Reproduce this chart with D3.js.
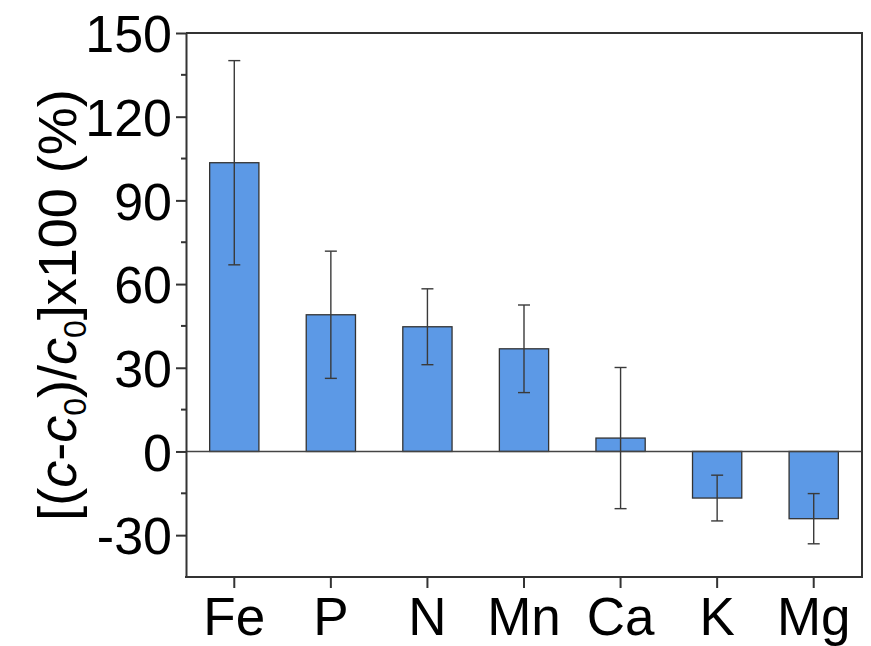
<!DOCTYPE html>
<html>
<head>
<meta charset="utf-8">
<script src="https://cdn.jsdelivr.net/npm/d3@7"></script>
<style>
  body { margin: 0; background: #fff; }
  svg { font-family: "Liberation Sans", Arial, sans-serif; }
</style>
</head>
<body>
<div id="chart"></div>
<script>
'use strict';

// Relative change of element concentration, with error bar half-widths
const elements = ['Fe', 'P', 'N', 'Mn', 'Ca', 'K', 'Mg'];
const changes = [103.5, 49, 44.7, 36.8, 4.8, -16.7, -24.1];
const errors = [36.6, 22.8, 13.6, 15.7, 25.3, 8.2, 9.0];
const yTicks = [-30, 0, 30, 60, 90, 120, 150];
const yMinorTicks = [-15, 15, 45, 75, 105, 135];

const width = 871;
const height = 646;
const margin = {top: 33, right: 9, bottom: 69, left: 186};

const svg = d3.select('#chart')
  .append('svg')
  .attr('width', width)
  .attr('height', height);

const x = d3.scaleBand()
  .domain(elements)
  .range([margin.left, width - margin.right])
  .paddingInner(0.49)
  .paddingOuter(0.245);

const y = d3.scaleLinear()
  .domain([-45, 150])
  .range([height - margin.bottom, margin.top]);

const data = elements.map((e, i) => ({name: e, value: changes[i], err: errors[i]}));

// bars
svg.append('g')
  .selectAll('rect')
  .data(data)
  .join('rect')
  .attr('x', d => x(d.name))
  .attr('width', x.bandwidth())
  .attr('y', d => y(Math.max(0, d.value)))
  .attr('height', d => Math.abs(y(d.value) - y(0)))
  .attr('fill', '#5c99e6')
  .attr('stroke', '#333')
  .attr('stroke-width', 1.3);

// zero line
svg.append('line')
  .attr('x1', margin.left)
  .attr('x2', width - margin.right)
  .attr('y1', y(0))
  .attr('y2', y(0))
  .attr('stroke', '#444')
  .attr('stroke-width', 1.5);

// error bars
const capHalf = 6;
const errG = svg.append('g')
  .attr('stroke', '#3a3a3a')
  .attr('stroke-width', 1.4)
  .selectAll('g')
  .data(data)
  .join('g')
  .attr('transform', d => `translate(${x(d.name) + x.bandwidth() / 2},0)`);

errG.append('line')
  .attr('y1', d => y(d.value + d.err))
  .attr('y2', d => y(d.value - d.err));
errG.append('line')
  .attr('x1', -capHalf).attr('x2', capHalf)
  .attr('y1', d => y(d.value + d.err))
  .attr('y2', d => y(d.value + d.err));
errG.append('line')
  .attr('x1', -capHalf).attr('x2', capHalf)
  .attr('y1', d => y(d.value - d.err))
  .attr('y2', d => y(d.value - d.err));

// frame top and right
svg.append('path')
  .attr('d', `M${margin.left},${margin.top}H${width - margin.right}V${height - margin.bottom}`)
  .attr('fill', 'none')
  .attr('stroke', '#333')
  .attr('stroke-width', 2);

// y axis
const yAxis = svg.append('g')
  .attr('transform', `translate(${margin.left},0)`)
  .call(d3.axisLeft(y)
    .tickValues(yTicks)
    .tickFormat(d => String(d))
    .tickSize(10)
    .tickPadding(4)
    .tickSizeOuter(0));
yAxis.selectAll('text')
  .attr('font-size', 52)
  .attr('dy', '0.36em')
  .attr('fill', '#000');

svg.append('g')
  .attr('transform', `translate(${margin.left},0)`)
  .selectAll('line')
  .data(yMinorTicks)
  .join('line')
  .attr('x1', -5)
  .attr('x2', 0)
  .attr('y1', d => y(d))
  .attr('y2', d => y(d))
  .attr('stroke', '#333')
  .attr('stroke-width', 2);

// x axis
const xAxis = svg.append('g')
  .attr('transform', `translate(0,${height - margin.bottom})`)
  .call(d3.axisBottom(x).tickSize(11).tickPadding(9).tickSizeOuter(0));
xAxis.selectAll('text')
  .attr('font-size', 53)
  .attr('fill', '#000');

[yAxis, xAxis].forEach(a => {
  a.select('.domain').attr('stroke', '#333').attr('stroke-width', 2);
  a.selectAll('.tick line').attr('stroke', '#333').attr('stroke-width', 2);
});
// extend x domain to meet the y axis
xAxis.select('.domain').attr('d', `M${margin.left - 1},0H${width - margin.right + 1}`);

// y axis title
const title = svg.append('text')
  .attr('transform', `translate(76,${(margin.top + height - margin.bottom) / 2}) rotate(-90)`)
  .attr('text-anchor', 'middle')
  .attr('font-size', 54)
  .attr('fill', '#000');
title.append('tspan').text('[(');
title.append('tspan').attr('font-style', 'italic').text('c');
title.append('tspan').text('-');
title.append('tspan').attr('font-style', 'italic').text('c');
title.append('tspan').attr('font-size', 32).attr('dy', 10).text('0');
title.append('tspan').attr('dy', -10).text(')/');
title.append('tspan').attr('font-style', 'italic').text('c');
title.append('tspan').attr('font-size', 32).attr('dy', 10).text('0');
title.append('tspan').attr('dy', -10).text(']x100 (%)');
</script>
</body>
</html>
